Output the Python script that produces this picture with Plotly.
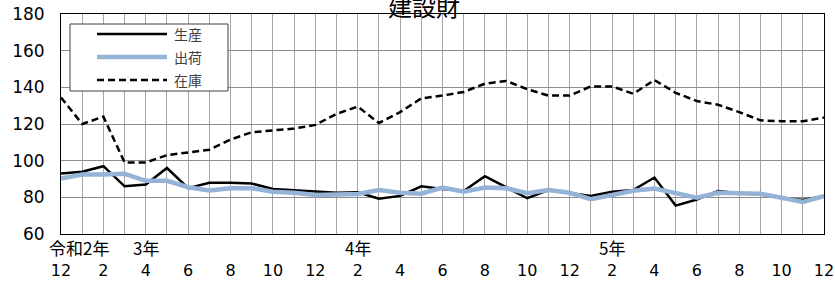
import plotly.graph_objects as go

# ---- data ----
month_numbers = [12] + list(range(1, 13)) * 3          # 令和2年12月 .. 令和5年12月
tick_labels = [str(m) if m % 2 == 0 else "" for m in month_numbers]
year_labels = ["令和2年", "3年", "4年", "5年"]
year_label_pos = [0.85, 4, 14, 26]

production = [93, 94, 97, 86, 87, 96, 85, 88, 88, 87.5,
              84.5, 83.8, 82.8, 82.5, 82.8, 79.3, 80.8, 86, 84.5, 83.5,
              91.5, 85.5, 79.5, 84, 82.2, 80.7, 83, 84, 90.8, 75.5,
              78.8, 83.5, 82.2, 81.6, 79.8, 78.5, 80.7]
shipments = [90.2, 92.5, 92.5, 92.8, 89, 89, 85.5, 83.8, 85, 85,
             83, 82.5, 81.3, 81.6, 81.8, 84, 82.5, 82, 85.3, 83,
             85.3, 85, 82.3, 84, 82.5, 79, 81, 83.6, 84.8, 82,
             79.8, 82.5, 82, 82, 79.8, 77.5, 80.7]
inventory = [134.5, 120, 124, 99, 99, 103, 104.5, 106, 111.5, 115.5,
             116.5, 117.5, 119.5, 125.5, 129.5, 120.5, 126.5, 134, 135.5, 137.5,
             142, 143.5, 139, 135.5, 135.5, 140.5, 140.5, 136.5, 144, 137,
             132.5, 130.5, 126.5, 122, 121.5, 121.5, 123.5]
series_names = ["生産", "出荷", "在庫"]
title_text = "建設財"

x = list(range(len(month_numbers)))

# ---- layout geometry (pixels) ----
W, H = 835, 282
L, R, T, B = 61, 824, 14, 234
PW, PH = R - L, B - T


def px(xp):
    return (xp - L) / PW


def py(yp):
    return (B - yp) / PH


CJK = "Noto Sans CJK JP, Arial, sans-serif"
NUM = "DejaVu Sans, Arial, sans-serif"

styles = [
    dict(color="black", width=2.5),
    dict(color="#95B3D7", width=4.5),
    dict(color="black", width=2.5, dash="7px,4px"),
]

fig = go.Figure()
for name, ys, st in zip(series_names, [production, shipments, inventory], styles):
    fig.add_trace(go.Scatter(x=x, y=ys, mode="lines", name=name, line=st,
                             showlegend=False, hoverinfo="skip"))

fig.update_layout(
    width=W, height=H,
    margin=dict(l=L, r=W - R, t=T, b=H - B, autoexpand=False),
    paper_bgcolor="white", plot_bgcolor="white",
    font=dict(family=NUM, size=16, color="black"),
)
fig.update_xaxes(
    range=[0, len(x) - 1], tickmode="array", tickvals=x, ticktext=tick_labels,
    showgrid=True, gridcolor="#a6a6a6", gridwidth=1,
    showline=True, linecolor="black", linewidth=1, mirror=True,
    ticks="", tickfont=dict(family=NUM, size=16), ticklabelstandoff=22,
    zeroline=False, automargin=False,
)
fig.update_yaxes(
    range=[60, 180], dtick=20, tick0=60,
    showgrid=True, gridcolor="#8c8c8c", gridwidth=1,
    showline=True, linecolor="black", linewidth=1, mirror=True,
    ticks="", tickfont=dict(family=NUM, size=17), ticklabelstandoff=12,
    zeroline=False, automargin=False,
)

# year labels on the category axis
for lab, pos in zip(year_labels, year_label_pos):
    fig.add_annotation(x=pos, y=py(247), xref="x", yref="paper", text=lab,
                       showarrow=False, font=dict(family=CJK, size=17),
                       xanchor="center", yanchor="middle")

# title (partly above the page edge, as in the reference)
fig.add_annotation(x=px(424), y=py(25), xref="paper", yref="paper",
                   text=title_text, showarrow=False,
                   font=dict(family=CJK, size=24), xanchor="center",
                   yanchor="bottom")

# legend box
fig.add_shape(type="rect", xref="paper", yref="paper",
              x0=px(70), x1=px(228), y0=py(24), y1=py(91),
              line=dict(color="#404040", width=1), fillcolor="white",
              layer="above")
for i, (name, st) in enumerate(zip(series_names, styles)):
    yy = [34, 57, 80][i]
    fig.add_shape(type="line", xref="paper", yref="paper",
                  x0=px(97), x1=px(167), y0=py(yy), y1=py(yy),
                  line=st, layer="above")
    fig.add_annotation(x=px(172), y=py(yy), xref="paper", yref="paper",
                       text=name, showarrow=False, xanchor="left",
                       yanchor="middle",
                       font=dict(family=CJK, size=14, color="#404040"))

fig.write_html("out.html",
               config={"displayModeBar": False, "staticPlot": True},
               post_script="document.body.style.margin='0';"
                           "document.body.style.overflow='hidden';")
